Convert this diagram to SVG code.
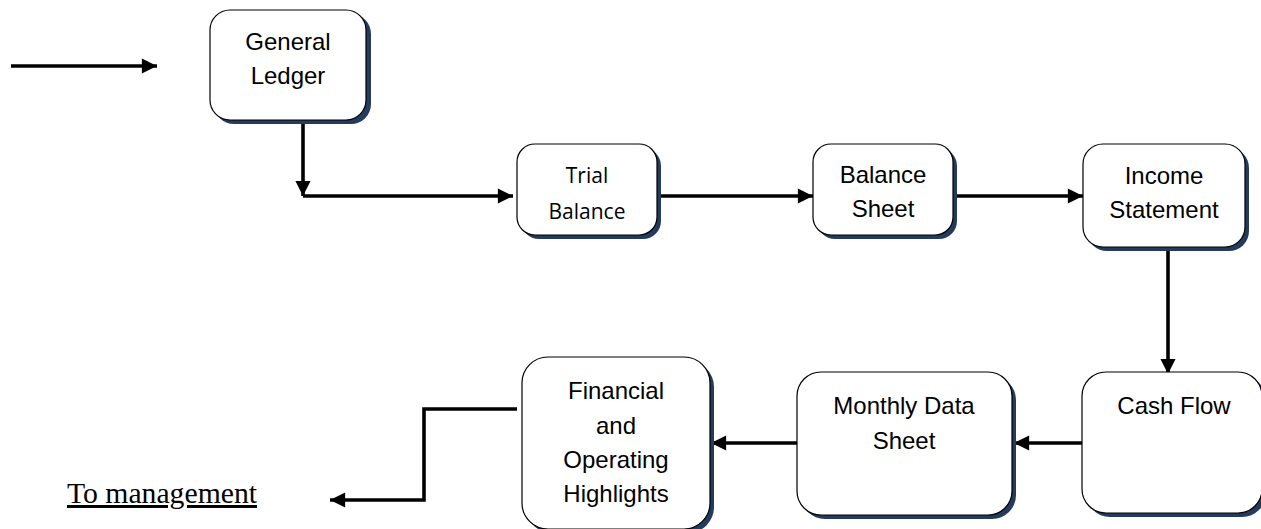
<svg xmlns="http://www.w3.org/2000/svg" width="1261" height="529" viewBox="0 0 1261 529">
<style>
.sh{fill:#243b5e}
.bx{fill:#fff;stroke:#000;stroke-width:1.2}
.t{font-family:"Liberation Sans Narrow","Liberation Sans",Arial,sans-serif;font-size:24px;fill:#000;text-anchor:middle}
.tc{font-family:"Open Sans","Liberation Sans",sans-serif;font-size:21px;fill:#000;text-anchor:middle}
.c{fill:none;stroke:#000;stroke-width:3.6}
</style>
<defs>
<marker id="ah" viewBox="0 0 10 10" refX="10" refY="5" markerWidth="4.6" markerHeight="4.2" markerUnits="strokeWidth" orient="auto">
<path d="M0,0L10,5L0,10z" fill="#000"/>
</marker>
</defs>
<rect width="1261" height="529" fill="#fff"/>
<g id="connectors">
<path class="c" d="M11,66H157" marker-end="url(#ah)"/>
<path class="c" d="M303,121V196"  marker-end="url(#ah)"/>
<path class="c" d="M303,196H513" marker-end="url(#ah)"/>
<path class="c" d="M659,196H813" marker-end="url(#ah)"/>
<path class="c" d="M956,196H1083" marker-end="url(#ah)"/>
<path class="c" d="M1168,249V374" marker-end="url(#ah)"/>
<path class="c" d="M1082,443H1014" marker-end="url(#ah)"/>
<path class="c" d="M797,443H711" marker-end="url(#ah)"/>
<path class="c" d="M517,409H424V500H330" marker-end="url(#ah)"/>
</g>
<g id="general-ledger">
<rect class="sh" x="214" y="14" width="157" height="110" rx="20"/>
<rect class="bx" x="210" y="10" width="156" height="110" rx="20"/>
<text class="t" x="288" y="50">General</text>
<text class="t" x="288" y="84">Ledger</text>
</g>
<g id="trial-balance">
<rect class="sh" x="521" y="148" width="140" height="91" rx="18"/>
<rect class="bx" x="517" y="144" width="140" height="91" rx="18"/>
<text class="tc" x="587" y="183">Trial</text>
<text class="tc" x="587" y="219">Balance</text>
</g>
<g id="balance-sheet">
<rect class="sh" x="817" y="148" width="140" height="91" rx="18"/>
<rect class="bx" x="813" y="144" width="140" height="91" rx="18"/>
<text class="t" x="883" y="183">Balance</text>
<text class="t" x="883" y="217">Sheet</text>
</g>
<g id="income-statement">
<rect class="sh" x="1087" y="148" width="162" height="103" rx="20"/>
<rect class="bx" x="1083" y="144" width="162" height="103" rx="20"/>
<text class="t" x="1164" y="184">Income</text>
<text class="t" x="1164" y="218">Statement</text>
</g>
<g id="cash-flow">
<rect class="sh" x="1086" y="376" width="180" height="141" rx="24"/>
<rect class="bx" x="1082" y="372" width="180" height="141" rx="24"/>
<text class="t" x="1174" y="414">Cash Flow</text>
</g>
<g id="monthly-data-sheet">
<rect class="sh" x="801" y="376" width="215" height="143" rx="24"/>
<rect class="bx" x="797" y="372" width="215" height="143" rx="24"/>
<text class="t" x="904" y="414">Monthly Data</text>
<text class="t" x="904" y="449">Sheet</text>
</g>
<g id="financial-operating-highlights">
<rect class="sh" x="526" y="361" width="188" height="172" rx="26"/>
<rect class="bx" x="522" y="357" width="188" height="172" rx="26"/>
<text class="t" x="616" y="399">Financial</text>
<text class="t" x="616" y="434">and</text>
<text class="t" x="616" y="468">Operating</text>
<text class="t" x="616" y="502">Highlights</text>
</g>
<g id="to-management">
<text x="67" y="503" font-family="Liberation Serif,'Times New Roman',serif" font-size="29.7" text-decoration="underline" fill="#000">To management</text>
</g>
</svg>
